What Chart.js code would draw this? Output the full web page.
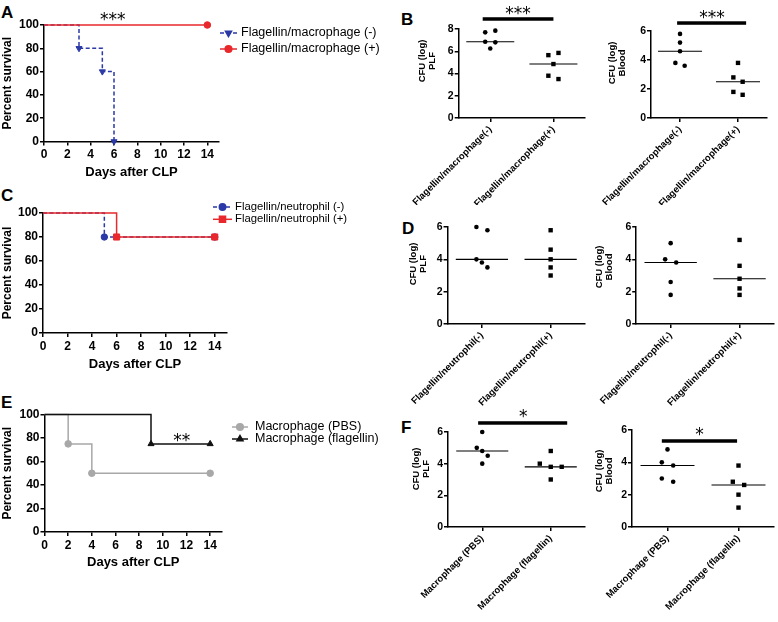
<!DOCTYPE html>
<html>
<head>
<meta charset="utf-8">
<script src="https://cdn.jsdelivr.net/npm/chart.js@4.4.1/dist/chart.umd.min.js"></script>
<style>
  html, body { margin: 0; padding: 0; background: #fff; }
  #figure { position: relative; width: 778px; height: 622px; overflow: hidden; background: #fff; }
  .tag { position: absolute; font: bold 17px 'Liberation Sans', Arial, sans-serif; line-height: 1; color: #000; }
</style>
</head>
<body>
<div id="figure">
  <div class="tag" style="left:1px;top:4px;">A</div>
  <div class="tag" style="left:401px;top:11px;">B</div>
  <div class="tag" style="left:1px;top:187px;">C</div>
  <div class="tag" style="left:402px;top:220px;">D</div>
  <div class="tag" style="left:1px;top:394px;">E</div>
  <div class="tag" style="left:401px;top:419px;">F</div>
</div>
<script>
const FONT = "'Liberation Sans', Arial, sans-serif";
const STAR_FONT = "17px 'DejaVu Sans', sans-serif";
const BLUE = '#2b3aa6';
const RED = '#e8282c';
const GRAY = '#a8a8a8';

// survival curves (Kaplan-Meier, event days / percent)
const dayTicks = [0, 2, 4, 6, 8, 10, 12, 14];
const survTicks = [0, 20, 40, 60, 80, 100];

const aNegDays = [0, 3, 5, 6];
const aNegSurv = [100, 80, 60, 0];
const aPosDays = [0, 14];
const aPosSurv = [100, 100];

const cNegDays = [0, 5, 14];
const cNegSurv = [100, 80, 80];
const cPosDays = [0, 6, 14];
const cPosSurv = [100, 80, 80];

const ePbsDays = [0, 2, 4, 14];
const ePbsSurv = [100, 75, 50, 50];
const eFlaDays = [0, 9, 14];
const eFlaSurv = [100, 75, 75];

// CFU (log) per mouse
const bGroups = ['Flagellin/macrophage(-)', 'Flagellin/macrophage(+)'];
const bPlfNeg = [7.7, 7.85, 6.85, 6.8, 6.25];
const bPlfPos = [5.65, 5.85, 4.85, 3.8, 3.5];
const bBloodNeg = [5.8, 5.2, 4.6, 3.8, 3.6];
const bBloodPos = [3.8, 2.8, 2.5, 1.8, 1.6];

const dGroups = ['Flagellin/neutrophil(-)', 'Flagellin/neutrophil(+)'];
const dPlfNeg = [6.0, 5.8, 4.0, 3.8, 3.5];
const dPlfPos = [5.8, 4.6, 4.0, 3.5, 3.0];
const dBloodNeg = [5.0, 4.0, 3.8, 2.6, 1.8];
const dBloodPos = [5.2, 3.6, 2.8, 2.2, 1.8];

const fGroups = ['Macrophage (PBS)', 'Macrophage (flagellin)'];
const fPlfPbs = [6.0, 5.0, 4.8, 4.5, 4.0];
const fPlfFla = [4.8, 4.0, 3.8, 3.8, 3.0];
const fBloodPbs = [4.8, 4.0, 3.8, 3.0, 2.8];
const fBloodFla = [3.8, 2.8, 2.6, 2.0, 1.2];

const cfuTicks8 = [0, 2, 4, 6, 8];
const cfuTicks6 = [0, 2, 4, 6];

Chart.defaults.font.family = FONT;
Chart.defaults.color = '#000';

function addCanvas(box) {
    const c = document.createElement('canvas');
    c.width = box.width;
    c.height = box.height;
    c.style.cssText = `position:absolute;left:${box.left}px;top:${box.top}px;width:${box.width}px;height:${box.height}px;`;
    document.getElementById('figure').appendChild(c);
    return c;
}

// canvas box + wanted plot area (page px) -> padding and fixed axis sizes
function layoutFor(box, area) {
    return {
        padding: { left: 0, top: area.t - box.top, right: box.left + box.width - area.r, bottom: 0 },
        yWidth: area.l - box.left,
        xHeight: box.top + box.height - area.b
    };
}

function axisLines() {
    return {
        grid: { display: true, drawOnChartArea: false, drawTicks: true, tickLength: 4, color: '#000', lineWidth: 1.5 },
        border: { display: true, color: '#000', width: 1.5 }
    };
}

function median(vals) {
    const s = [...vals].sort((a, b) => a - b);
    const m = s.length >> 1;
    return s.length % 2 ? s[m] : (s[m - 1] + s[m]) / 2;
}

// side-by-side nudge for points with almost the same value
function spread(vals) {
    return vals.map((v, i) => {
        const near = vals.map((w, j) => j).filter(j => Math.abs(vals[j] - v) < 0.3);
        if (near.length < 2) return 0;
        return (near.indexOf(i) - (near.length - 1) / 2) * 0.16;
    });
}

function notesPlugin(cfg) {
    return {
        id: 'notes',
        afterDatasetsDraw(chart) {
            const { ctx, scales: { x, y } } = chart;
            ctx.save();
            ctx.fillStyle = '#000';
            (cfg.bars || []).forEach(b => {
                const x1 = x.getPixelForValue(b.from);
                const x2 = x.getPixelForValue(b.to);
                ctx.fillRect(x1, y.getPixelForValue(b.at) - 1.75, x2 - x1, 3.5);
            });
            (cfg.labels || []).forEach(t => {
                ctx.font = t.font || STAR_FONT;
                ctx.textAlign = 'center';
                ctx.textBaseline = 'alphabetic';
                ctx.fillText(t.text, x.getPixelForValue(t.x), y.getPixelForValue(t.y) + (t.dy || 0));
            });
            ctx.restore();
        }
    };
}

function legendPlugin(cfg) {
    return {
        id: 'kmLegend',
        afterDraw(chart) {
            const ctx = chart.ctx;
            ctx.save();
            chart.data.datasets.forEach((ds, i) => {
                const y = cfg.y + i * cfg.gap;
                ctx.strokeStyle = ds.borderColor;
                ctx.fillStyle = ds.borderColor;
                ctx.lineWidth = 1.5;
                ctx.setLineDash(ds.borderDash || []);
                ctx.beginPath();
                ctx.moveTo(cfg.x, y);
                ctx.lineTo(cfg.x + cfg.len, y);
                ctx.stroke();
                ctx.setLineDash([]);
                Chart.helpers.drawPoint(ctx, {
                    pointStyle: ds.pointStyle, rotation: ds.pointRotation || 0,
                    radius: ds.legendRadius, borderWidth: 1
                }, cfg.x + cfg.len / 2, y);
                ctx.fillStyle = '#000';
                ctx.font = cfg.font;
                ctx.textAlign = 'left';
                ctx.textBaseline = 'middle';
                ctx.fillText(ds.label, cfg.textX, y);
            });
            ctx.restore();
        }
    };
}

function titlePlugin(cfg) {
    return {
        id: 'cfuTitle',
        afterDraw(chart) {
            const ctx = chart.ctx;
            ctx.save();
            ctx.translate(cfg.x, cfg.y);
            ctx.rotate(-Math.PI / 2);
            ctx.font = `bold 9.5px ${FONT}`;
            ctx.fillStyle = '#000';
            ctx.textAlign = 'center';
            ctx.textBaseline = 'middle';
            cfg.lines.forEach((l, i) => ctx.fillText(l, 0, i * 10));
            ctx.restore();
        }
    };
}

function survivalChart(p) {
    const lay = layoutFor(p.box, p.area);
    const lines = axisLines();
    const canvas = addCanvas(p.box);
    const lg = p.legend;

    return new Chart(canvas, {
        type: 'line',
        data: {
            datasets: p.series.map(s => ({
                label: s.label,
                data: s.days.map((d, k) => ({ x: d, y: s.surv[k] })),
                stepped: true,
                borderColor: s.color,
                backgroundColor: s.color,
                borderWidth: 1.5,
                borderDash: s.dash || [],
                pointStyle: s.pointStyle,
                pointRotation: s.rotation || 0,
                pointRadius: s.days.map((d, k) => k === 0 ? 0 : s.radius),
                legendRadius: s.radius,
                pointBorderWidth: 1,
                fill: false,
                clip: false,
                order: s.order
            }))
        },
        options: {
            responsive: false,
            animation: false,
            layout: { padding: lay.padding },
            plugins: { legend: { display: false }, tooltip: { enabled: false } },
            scales: {
                x: {
                    type: 'linear', min: 0, max: 15,
                    afterBuildTicks: s => { s.ticks = dayTicks.map(v => ({ value: v })); },
                    afterFit: s => { s.height = lay.xHeight; },
                    ticks: { padding: 2, font: { size: 12, weight: 'bold' } },
                    title: { display: true, text: 'Days after CLP', font: { size: 13, weight: 'bold' }, padding: { top: 0, bottom: 4 } },
                    ...lines
                },
                y: {
                    min: 0, max: 100,
                    afterBuildTicks: s => { s.ticks = survTicks.map(v => ({ value: v })); },
                    afterFit: s => { s.width = lay.yWidth; },
                    ticks: { padding: 1, font: { size: 12, weight: 'bold' } },
                    title: { display: true, text: 'Percent survival', font: { size: 12, weight: 'bold' }, padding: { top: 0, bottom: 0 } },
                    ...lines
                }
            }
        },
        plugins: [
            legendPlugin({ x: lg.x - p.box.left, y: lg.y - p.box.top, gap: lg.gap, len: lg.len, textX: lg.textX - p.box.left, font: lg.font }),
            notesPlugin({ labels: p.notes || [] })
        ]
    });
}

function cfuChart(p) {
    const lay = layoutFor(p.box, p.area);
    const lines = axisLines();
    const canvas = addCanvas(p.box);
    const datasets = [];

    p.values.forEach((vals, g) => {
        const offs = spread(vals);
        datasets.push({
            data: vals.map((v, i) => ({ x: g + offs[i], y: v })),
            showLine: false,
            pointStyle: g === 0 ? 'circle' : 'rect',
            pointRadius: g === 0 ? 2.3 : 3.1,
            pointBorderWidth: 0,
            backgroundColor: '#000',
            borderColor: '#000',
            clip: false
        });
        const m = median(vals);
        datasets.push({
            data: [{ x: g - 0.38, y: m }, { x: g + 0.38, y: m }],
            showLine: true,
            borderColor: '#000',
            borderWidth: 1.1,
            pointRadius: 0
        });
    });

    return new Chart(canvas, {
        type: 'scatter',
        data: { datasets },
        options: {
            responsive: false,
            animation: false,
            layout: { padding: lay.padding },
            plugins: { legend: { display: false }, tooltip: { enabled: false } },
            scales: {
                x: {
                    type: 'linear', min: -0.5, max: 1.5,
                    afterBuildTicks: s => { s.ticks = [{ value: 0 }, { value: 1 }]; },
                    afterFit: s => { s.height = lay.xHeight; },
                    ticks: {
                        autoSkip: false, minRotation: 45, maxRotation: 45, padding: 2,
                        font: { size: 9.5, weight: 'bold' },
                        callback: v => p.groups[v]
                    },
                    ...lines
                },
                y: {
                    min: 0, max: p.yTicks[p.yTicks.length - 1],
                    afterBuildTicks: s => { s.ticks = p.yTicks.map(v => ({ value: v })); },
                    afterFit: s => { s.width = lay.yWidth; },
                    ticks: { padding: 1, font: { size: 10.5, weight: 'bold' } },
                    ...lines
                }
            }
        },
        plugins: [
            titlePlugin({ lines: p.title, x: p.titleAt[0] - p.box.left, y: p.titleAt[1] - p.box.top }),
            notesPlugin(p.sig || {})
        ]
    });
}

// A
survivalChart({
    box: { left: 0, top: 0, width: 400, height: 184 },
    area: { l: 44, r: 219, t: 25, b: 141.5 },
    series: [
        { label: 'Flagellin/macrophage (-)', days: aNegDays, surv: aNegSurv, color: BLUE, dash: [4, 2.5], pointStyle: 'triangle', rotation: 180, radius: 3.5, order: 1 },
        { label: 'Flagellin/macrophage (+)', days: aPosDays, surv: aPosSurv, color: RED, pointStyle: 'circle', radius: 3.3, order: 0 }
    ],
    legend: { x: 220, y: 33, gap: 16, len: 17, textX: 241, font: `12.5px ${FONT}` },
    notes: [{ text: '***', x: 5.9, y: 100, dy: 0 }]
});

// C
survivalChart({
    box: { left: 0, top: 190, width: 400, height: 186 },
    area: { l: 43, r: 227, t: 213, b: 333 },
    series: [
        { label: 'Flagellin/neutrophil (-)', days: cNegDays, surv: cNegSurv, color: BLUE, dash: [4, 2.5], pointStyle: 'circle', radius: 3.2, order: 1 },
        { label: 'Flagellin/neutrophil (+)', days: cPosDays, surv: cPosSurv, color: RED, pointStyle: 'rect', radius: 4.3, order: 0 }
    ],
    legend: { x: 213, y: 207, gap: 12.3, len: 19, textX: 235, font: `11.3px ${FONT}` }
});

// E
survivalChart({
    box: { left: 0, top: 395, width: 400, height: 179 },
    area: { l: 44.5, r: 222, t: 414.5, b: 532 },
    series: [
        { label: 'Macrophage (PBS)', days: ePbsDays, surv: ePbsSurv, color: GRAY, pointStyle: 'circle', radius: 3.3, order: 1 },
        { label: 'Macrophage (flagellin)', days: eFlaDays, surv: eFlaSurv, color: '#111', pointStyle: 'triangle', radius: 3.5, order: 0 }
    ],
    legend: { x: 232, y: 427, gap: 12, len: 16, textX: 255, font: `12.5px ${FONT}` },
    notes: [{ text: '**', x: 11.6, y: 75, dy: 2 }]
});

// B
cfuChart({
    box: { left: 400, top: 0, width: 190, height: 205 },
    area: { l: 450, r: 585, t: 29, b: 118 },
    groups: bGroups, values: [bPlfNeg, bPlfPos], yTicks: cfuTicks8,
    title: ['CFU (log)', 'PLF'], titleAt: [422, 61],
    sig: { bars: [{ from: -0.12, to: 1.0, at: 8.9 }], labels: [{ text: '***', x: 0.44, y: 8.9, dy: 0 }] }
});
cfuChart({
    box: { left: 590, top: 0, width: 188, height: 205 },
    area: { l: 639, r: 767, t: 31, b: 118 },
    groups: bGroups, values: [bBloodNeg, bBloodPos], yTicks: cfuTicks6,
    title: ['CFU (log)', 'Blood'], titleAt: [612, 63],
    sig: { bars: [{ from: -0.05, to: 1.14, at: 6.55 }], labels: [{ text: '***', x: 0.55, y: 6.55, dy: 0 }] }
});

// D
cfuChart({
    box: { left: 400, top: 205, width: 190, height: 215 },
    area: { l: 445, r: 585, t: 227, b: 324 },
    groups: dGroups, values: [dPlfNeg, dPlfPos], yTicks: cfuTicks6,
    title: ['CFU (log)', 'PLF'], titleAt: [413, 264]
});
cfuChart({
    box: { left: 590, top: 205, width: 188, height: 215 },
    area: { l: 630, r: 774, t: 227, b: 324 },
    groups: dGroups, values: [dBloodNeg, dBloodPos], yTicks: cfuTicks6,
    title: ['CFU (log)', 'Blood'], titleAt: [599, 267]
});

// F
cfuChart({
    box: { left: 400, top: 400, width: 190, height: 222 },
    area: { l: 448, r: 585, t: 432, b: 527 },
    groups: fGroups, values: [fPlfPbs, fPlfFla], yTicks: cfuTicks6,
    title: ['CFU (log)', 'PLF'], titleAt: [416, 469],
    sig: { bars: [{ from: -0.06, to: 1.24, at: 6.57 }], labels: [{ text: '*', x: 0.6, y: 6.57, dy: -1 }] }
});
cfuChart({
    box: { left: 590, top: 400, width: 188, height: 222 },
    area: { l: 632, r: 774, t: 430, b: 527 },
    groups: fGroups, values: [fBloodPbs, fBloodFla], yTicks: cfuTicks6,
    title: ['CFU (log)', 'Blood'], titleAt: [599, 471],
    sig: { bars: [{ from: -0.08, to: 0.98, at: 5.32 }], labels: [{ text: '*', x: 0.45, y: 5.32, dy: -1 }] }
});
</script>
</body>
</html>
